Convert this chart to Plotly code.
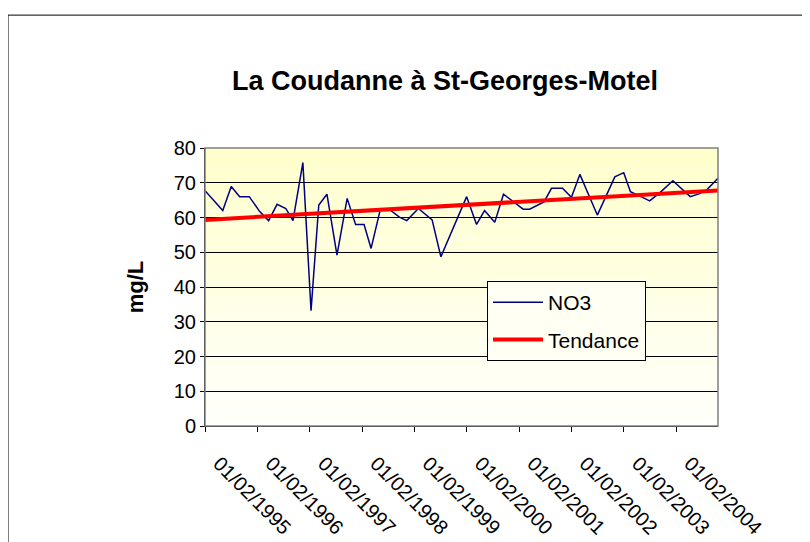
import plotly.graph_objects as go

dates = [
    "1995-02-01", "1995-06-05", "1995-08-03", "1995-10-01", "1995-12-07",
    "1996-02-18", "1996-04-20", "1996-06-18", "1996-08-18", "1996-10-07",
    "1996-12-15", "1997-02-10", "1997-04-05", "1997-06-01", "1997-08-10",
    "1997-10-20", "1997-12-18", "1998-02-15", "1998-04-05", "1998-06-10",
    "1998-08-15", "1998-10-20", "1998-12-10", "1999-03-01", "1999-06-05",
    "1999-08-05", "2000-02-01", "2000-04-10", "2000-06-05", "2000-08-15",
    "2000-10-15", "2001-03-01", "2001-04-15", "2001-07-25", "2001-09-15",
    "2001-12-01", "2002-02-01", "2002-04-01", "2002-08-01", "2002-12-01",
    "2003-02-01", "2003-03-20", "2003-06-01", "2003-08-01", "2003-10-10",
    "2004-01-10", "2004-05-10", "2004-07-10", "2004-09-01", "2004-11-20",
]
no3 = [
    67.7, 62.0, 68.9, 66.0, 66.0,
    61.7, 59.1, 63.8, 62.6, 59.1,
    75.8, 33.2, 63.6, 66.7, 49.2,
    65.5, 58.0, 58.0, 51.1, 62.6,
    62.2, 60.1, 59.1, 62.6, 59.3,
    48.7, 66.0, 58.0, 62.0, 58.6,
    66.7, 62.4, 62.4, 64.5, 68.4,
    68.4, 65.8, 72.4, 60.7, 71.7,
    72.9, 67.4, 66.0, 64.8, 67.1,
    70.6, 66.0, 66.8, 67.9, 71.3,
]

tendance_dates = ["1995-02-01", "2004-11-20"]
tendance = [59.3, 67.8]

tick_dates = ["%d-02-01" % a for a in range(1995, 2005)]
tick_labels = ["01/02/%d" % a for a in range(1995, 2005)]

fig = go.Figure()
fig.add_trace(go.Scatter(x=dates, y=no3, mode="lines", name="NO3", legendgroup="a",
                         line=dict(color="#000080", width=1.5)))
fig.add_trace(go.Scatter(x=tendance_dates, y=tendance, mode="lines", name="Tendance",
                         legendgroup="b", line=dict(color="#FF0000", width=4)))

# fond dégradé jaune -> blanc (bandes horizontales)
n = 40
shapes = []
for i in range(n):
    t = i / (n - 1)
    b = int(204 + (252 - 204) * t)
    shapes.append(dict(type="rect", xref="paper", yref="paper",
                       x0=0, x1=1, y0=1 - (i + 1) / n, y1=1 - i / n,
                       fillcolor="rgb(255,255,%d)" % b, line=dict(width=0),
                       layer="below"))
# bordure grise du cadre
shapes.append(dict(type="rect", xref="paper", yref="paper", x0=0, x1=1, y0=0, y1=1,
                   line=dict(color="#808080", width=1.5), layer="above"))
# cadre extérieur du graphique (bords haut et gauche seulement visibles)
shapes.append(dict(type="line", xref="paper", yref="paper",
                   x0=-0.384, x1=1.3, y0=1.478, y1=1.478,
                   line=dict(color="black", width=1)))
shapes.append(dict(type="line", xref="paper", yref="paper",
                   x0=-0.384, x1=-0.384, y0=-0.6, y1=1.478,
                   line=dict(color="black", width=1)))

fig.update_layout(
    width=802, height=534,
    margin=dict(l=197, r=92, t=140, b=116),
    paper_bgcolor="white",
    plot_bgcolor="rgba(0,0,0,0)",
    font=dict(family="Liberation Sans, Arial", color="black"),
    title=dict(text="<b>La Coudanne à St-Georges-Motel</b>", x=0.545,
               xanchor="center", y=0.865, yanchor="middle",
               font=dict(size=27)),
    shapes=shapes,
    showlegend=True,
    legend=dict(x=0.5497, y=0.5216, xanchor="left", yanchor="top",
                bgcolor="#FFFFF4", bordercolor="black", borderwidth=1,
                font=dict(size=21), itemwidth=50, traceorder="grouped",
                tracegroupgap=7),
    xaxis=dict(type="date", range=["1995-02-01", "2004-11-20"],
               tickvals=tick_dates, ticktext=tick_labels, tickangle=45,
               ticks="outside", ticklen=5, tickcolor="black",
               ticklabelstandoff=12, ticklabelshift=14, automargin=False,
               showgrid=False, showline=True, linecolor="black", linewidth=1,
               tickfont=dict(size=20), zeroline=False),
    yaxis=dict(range=[0, 80], dtick=10, ticks="outside", ticklen=4, tickcolor="black",
               showgrid=True, gridcolor="black", gridwidth=1,
               showline=True, linecolor="black", linewidth=1, automargin=False,
               tickfont=dict(size=20), zeroline=False,
               title=dict(text="<b>mg/L</b>", font=dict(size=22), standoff=24)),
)

fig.write_html("out.html")
